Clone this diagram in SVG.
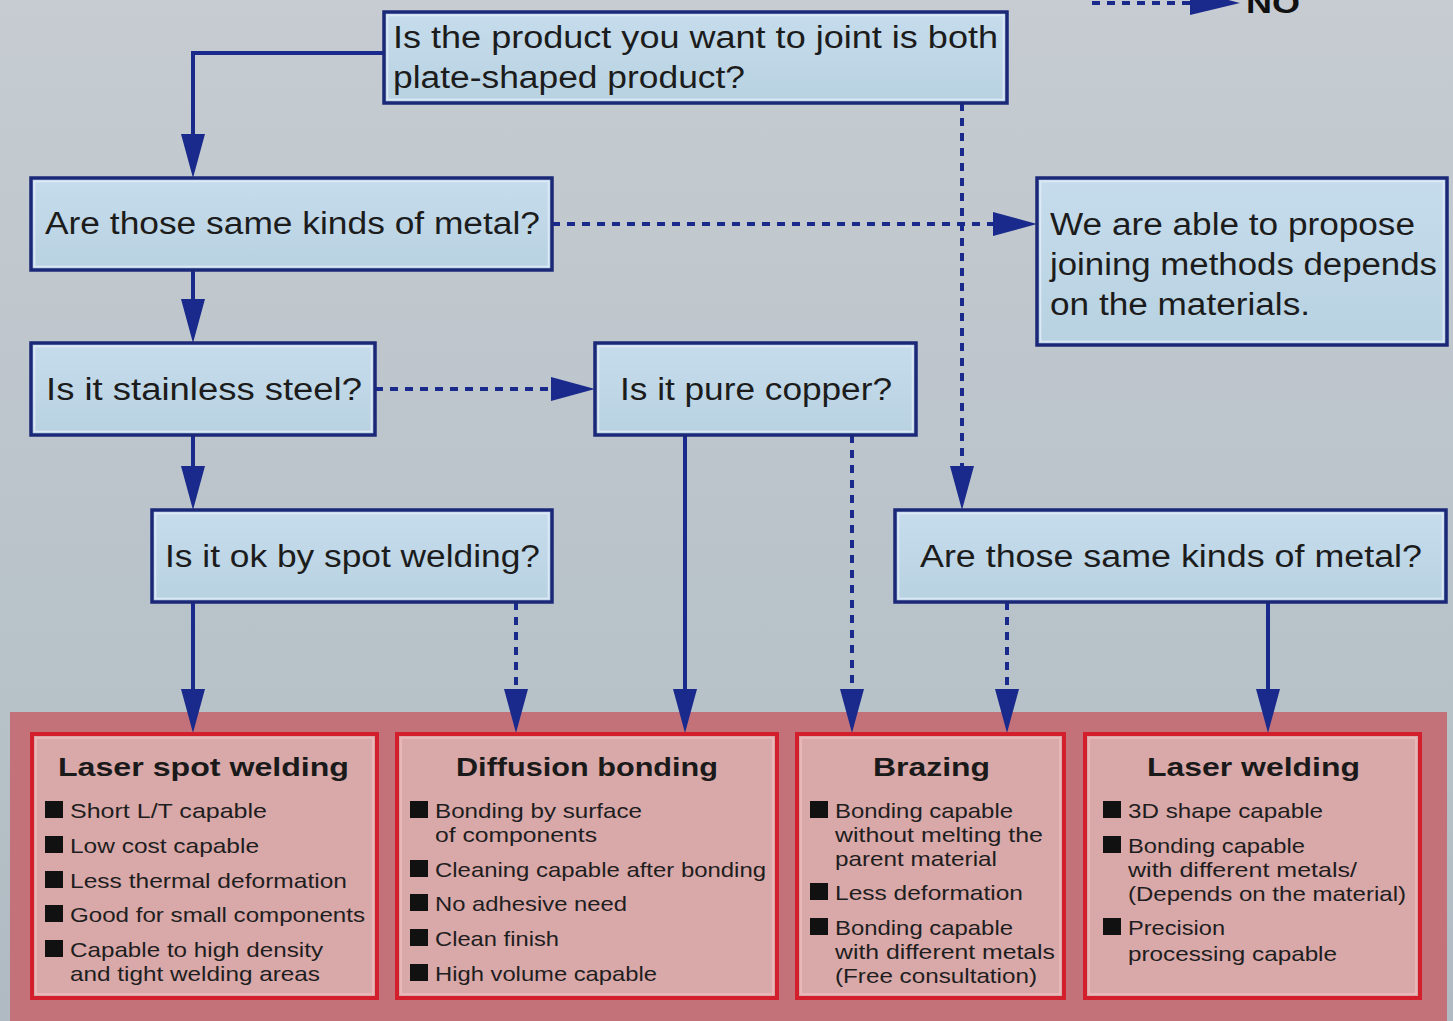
<svg xmlns="http://www.w3.org/2000/svg" width="1453" height="1021" viewBox="0 0 1453 1021">
<defs>
<linearGradient id="bg" x1="0" y1="0" x2="0" y2="1">
<stop offset="0" stop-color="#c6ccd1"/>
<stop offset="0.7" stop-color="#b6c1c8"/>
<stop offset="1" stop-color="#b0bac2"/>
</linearGradient>
<linearGradient id="nodeFill" x1="0" y1="0" x2="0" y2="1">
<stop offset="0" stop-color="#c6dcec"/>
<stop offset="1" stop-color="#b8d2e2"/>
</linearGradient>
<marker id="ah" viewBox="0 0 44 24" refX="14" refY="12" markerWidth="44" markerHeight="24" markerUnits="userSpaceOnUse" orient="auto">
<path d="M0,0 L44,12 L0,24 Z" fill="#1a2a8c"/>
</marker>
</defs>
<style>
.node rect.box{fill:url(#nodeFill);stroke:#1b2878;stroke-width:3.5}
.node rect.inner{fill:none;stroke:#dde9f6;stroke-width:1.5}
.q{font-family:"Liberation Sans",Arial,sans-serif;font-size:31px;fill:#1c1c1c}
.res rect.box{fill:#d9a8a9;stroke:#d21f2b;stroke-width:4}
.res rect.inner{fill:none;stroke:#eebcbc;stroke-width:1.5}
.t{font-family:"Liberation Sans",Arial,sans-serif;font-size:26px;font-weight:bold;fill:#1a1a1a}
.b{font-family:"Liberation Sans",Arial,sans-serif;font-size:21px;fill:#1e1e1e}
.sq{fill:#111}
.solid{fill:none;stroke:#1a2a8c;stroke-width:4}
.dash{fill:none;stroke:#1a2a8c;stroke-width:4;stroke-dasharray:8 7}
</style>
<rect x="0" y="0" width="1453" height="1021" fill="url(#bg)"/>

<!-- legend -->
<g id="legend">
<line x1="1092" y1="3" x2="1192" y2="3" class="dash"/>
<polygon points="1190,-10 1240,3 1190,15" fill="#1a2a8c"/>
<text x="1246" y="13" font-family="Liberation Sans, Arial, sans-serif" font-size="30" font-weight="bold" fill="#111" textLength="54" lengthAdjust="spacingAndGlyphs">NO</text>
</g>

<!-- bottom band -->
<rect x="10" y="712" width="1437" height="309" fill="#c3727a"/>

<!-- connectors -->
<g id="connectors">
<path class="solid" d="M384,53 H193 V148" marker-end="url(#ah)"/>
<path class="solid" d="M193,270 V313" marker-end="url(#ah)"/>
<path class="solid" d="M193,435 V480" marker-end="url(#ah)"/>
<path class="solid" d="M193,602 V703" marker-end="url(#ah)"/>
<path class="dash" d="M516,602 V703" marker-end="url(#ah)"/>
<path class="solid" d="M685,435 V703" marker-end="url(#ah)"/>
<path class="dash" d="M852,435 V703" marker-end="url(#ah)"/>
<path class="dash" d="M1007,602 V703" marker-end="url(#ah)"/>
<path class="solid" d="M1268,602 V703" marker-end="url(#ah)"/>
<path class="dash" d="M962,103 V480" marker-end="url(#ah)"/>
<path class="dash" d="M552,224 H1007" marker-end="url(#ah)"/>
<path class="dash" d="M375,389 H565" marker-end="url(#ah)"/>
</g>

<!-- question nodes -->
<g id="n1" class="node">
<rect class="box" x="384" y="12" width="623" height="91"/>
<rect class="inner" x="387.5" y="15.5" width="616" height="84"/>
<text class="q" x="393" y="48" textLength="605" lengthAdjust="spacingAndGlyphs">Is the product you want to joint is both</text>
<text class="q" x="393" y="88" textLength="352" lengthAdjust="spacingAndGlyphs">plate-shaped product?</text>
</g>
<g id="n2" class="node">
<rect class="box" x="31" y="178" width="521" height="92"/>
<rect class="inner" x="34.5" y="181.5" width="514" height="85"/>
<text class="q" x="45" y="234" textLength="495" lengthAdjust="spacingAndGlyphs">Are those same kinds of metal?</text>
</g>
<g id="n3" class="node">
<rect class="box" x="1037" y="178" width="410" height="167"/>
<rect class="inner" x="1040.5" y="181.5" width="403" height="160"/>
<text class="q" x="1050" y="235" textLength="365" lengthAdjust="spacingAndGlyphs">We are able to propose</text>
<text class="q" x="1050" y="275" textLength="387" lengthAdjust="spacingAndGlyphs">joining methods depends</text>
<text class="q" x="1050" y="315" textLength="260" lengthAdjust="spacingAndGlyphs">on the materials.</text>
</g>
<g id="n4" class="node">
<rect class="box" x="31" y="343" width="344" height="92"/>
<rect class="inner" x="34.5" y="346.5" width="337" height="85"/>
<text class="q" x="46" y="400" textLength="316" lengthAdjust="spacingAndGlyphs">Is it stainless steel?</text>
</g>
<g id="n5" class="node">
<rect class="box" x="595" y="343" width="321" height="92"/>
<rect class="inner" x="598.5" y="346.5" width="314" height="85"/>
<text class="q" x="620" y="400" textLength="272" lengthAdjust="spacingAndGlyphs">Is it pure copper?</text>
</g>
<g id="n6" class="node">
<rect class="box" x="152" y="510" width="400" height="92"/>
<rect class="inner" x="155.5" y="513.5" width="393" height="85"/>
<text class="q" x="165" y="567" textLength="375" lengthAdjust="spacingAndGlyphs">Is it ok by spot welding?</text>
</g>
<g id="n7" class="node">
<rect class="box" x="895" y="510" width="551" height="92"/>
<rect class="inner" x="898.5" y="513.5" width="544" height="85"/>
<text class="q" x="920" y="567" textLength="502" lengthAdjust="spacingAndGlyphs">Are those same kinds of metal?</text>
</g>

<!-- result nodes -->
<g id="r1" class="res">
<rect class="box" x="32" y="734" width="345" height="264"/>
<rect class="inner" x="36" y="738" width="337" height="256"/>
<text class="t" x="58" y="776" textLength="291" lengthAdjust="spacingAndGlyphs">Laser spot welding</text>
<rect class="sq" x="45" y="801" width="18" height="17"/>
<text class="b" x="70" y="818" textLength="197" lengthAdjust="spacingAndGlyphs">Short L/T capable</text>
<rect class="sq" x="45" y="836" width="18" height="17"/>
<text class="b" x="70" y="853" textLength="189" lengthAdjust="spacingAndGlyphs">Low cost capable</text>
<rect class="sq" x="45" y="871" width="18" height="17"/>
<text class="b" x="70" y="888" textLength="277" lengthAdjust="spacingAndGlyphs">Less thermal deformation</text>
<rect class="sq" x="45" y="905" width="18" height="17"/>
<text class="b" x="70" y="922" textLength="295" lengthAdjust="spacingAndGlyphs">Good for small components</text>
<rect class="sq" x="45" y="940" width="18" height="17"/>
<text class="b" x="70" y="957" textLength="253" lengthAdjust="spacingAndGlyphs">Capable to high density</text>
<text class="b" x="70" y="981" textLength="250" lengthAdjust="spacingAndGlyphs">and tight welding areas</text>
</g>
<g id="r2" class="res">
<rect class="box" x="397" y="734" width="380" height="264"/>
<rect class="inner" x="401" y="738" width="372" height="256"/>
<text class="t" x="456" y="776" textLength="262" lengthAdjust="spacingAndGlyphs">Diffusion bonding</text>
<rect class="sq" x="410" y="801" width="18" height="17"/>
<text class="b" x="435" y="818" textLength="207" lengthAdjust="spacingAndGlyphs">Bonding by surface</text>
<text class="b" x="435" y="842" textLength="162" lengthAdjust="spacingAndGlyphs">of components</text>
<rect class="sq" x="410" y="860" width="18" height="17"/>
<text class="b" x="435" y="877" textLength="331" lengthAdjust="spacingAndGlyphs">Cleaning capable after bonding</text>
<rect class="sq" x="410" y="894" width="18" height="17"/>
<text class="b" x="435" y="911" textLength="192" lengthAdjust="spacingAndGlyphs">No adhesive need</text>
<rect class="sq" x="410" y="929" width="18" height="17"/>
<text class="b" x="435" y="946" textLength="124" lengthAdjust="spacingAndGlyphs">Clean finish</text>
<rect class="sq" x="410" y="964" width="18" height="17"/>
<text class="b" x="435" y="981" textLength="222" lengthAdjust="spacingAndGlyphs">High volume capable</text>
</g>
<g id="r3" class="res">
<rect class="box" x="797" y="734" width="267" height="264"/>
<rect class="inner" x="801" y="738" width="259" height="256"/>
<text class="t" x="873" y="776" textLength="117" lengthAdjust="spacingAndGlyphs">Brazing</text>
<rect class="sq" x="810" y="801" width="18" height="17"/>
<text class="b" x="835" y="818" textLength="178" lengthAdjust="spacingAndGlyphs">Bonding capable</text>
<text class="b" x="835" y="842" textLength="208" lengthAdjust="spacingAndGlyphs">without melting the</text>
<text class="b" x="835" y="866" textLength="162" lengthAdjust="spacingAndGlyphs">parent material</text>
<rect class="sq" x="810" y="883" width="18" height="17"/>
<text class="b" x="835" y="900" textLength="188" lengthAdjust="spacingAndGlyphs">Less deformation</text>
<rect class="sq" x="810" y="918" width="18" height="17"/>
<text class="b" x="835" y="935" textLength="178" lengthAdjust="spacingAndGlyphs">Bonding capable</text>
<text class="b" x="835" y="959" textLength="220" lengthAdjust="spacingAndGlyphs">with different metals</text>
<text class="b" x="835" y="983" textLength="202" lengthAdjust="spacingAndGlyphs">(Free consultation)</text>
</g>
<g id="r4" class="res">
<rect class="box" x="1085" y="734" width="335" height="264"/>
<rect class="inner" x="1089" y="738" width="327" height="256"/>
<text class="t" x="1147" y="776" textLength="213" lengthAdjust="spacingAndGlyphs">Laser welding</text>
<rect class="sq" x="1103" y="801" width="18" height="17"/>
<text class="b" x="1128" y="818" textLength="195" lengthAdjust="spacingAndGlyphs">3D shape capable</text>
<rect class="sq" x="1103" y="836" width="18" height="17"/>
<text class="b" x="1128" y="853" textLength="177" lengthAdjust="spacingAndGlyphs">Bonding capable</text>
<text class="b" x="1128" y="877" textLength="229" lengthAdjust="spacingAndGlyphs">with different metals/</text>
<text class="b" x="1128" y="901" textLength="278" lengthAdjust="spacingAndGlyphs">(Depends on the material)</text>
<rect class="sq" x="1103" y="918" width="18" height="17"/>
<text class="b" x="1128" y="935" textLength="97" lengthAdjust="spacingAndGlyphs">Precision</text>
<text class="b" x="1128" y="961" textLength="209" lengthAdjust="spacingAndGlyphs">processing capable</text>
</g>
</svg>
